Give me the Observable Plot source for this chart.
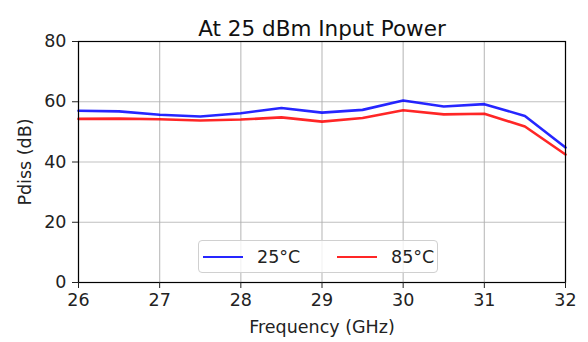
<!DOCTYPE html>
<html>
<head>
<meta charset="utf-8">
<script src="https://cdn.jsdelivr.net/npm/d3@7"></script>
<script src="https://cdn.jsdelivr.net/npm/@observablehq/plot@0.6"></script>
<style>
  html, body { margin: 0; padding: 0; background: #fff; }
  #chart { position: relative; width: 588px; height: 342px; font-family: "DejaVu Sans", sans-serif; }
  #chart svg { display: block; }
  .legend {
    position: absolute; left: 198px; top: 240px; width: 238px; height: 31px;
    background: rgba(255,255,255,0.8); border: 1px solid #d0d0d0; border-radius: 4px;
    font-size: 17.5px; color: #222;
  }
  .legend .item { position: absolute; top: 0; height: 31px; display: flex; align-items: center; }
  .legend .swatch { width: 40px; height: 0; border-top: 2.6px solid; margin-right: 14px; }
</style>
</head>
<body>
<div id="chart"></div>
<script>
// Dissipated power vs. frequency at 25 dBm input, two case temperatures
const freq = [26, 26.5, 27, 27.5, 28, 28.5, 29, 29.5, 30, 30.5, 31, 31.5, 32];
const pdiss25 = [57.0, 56.8, 55.7, 55.1, 56.2, 57.9, 56.4, 57.3, 60.4, 58.4, 59.2, 55.3, 44.8];
const pdiss85 = [54.3, 54.4, 54.2, 53.8, 54.1, 54.8, 53.4, 54.6, 57.2, 55.8, 56.0, 51.8, 42.5];
const seriesNames = ["25°C", "85°C"];
const seriesColors = ["#0000ff", "#ff0000"];
const xTicks = [26, 27, 28, 29, 30, 31, 32];
const yTicks = [0, 20, 40, 60, 80];

const rows = [
  ...freq.map((f, i) => ({f, v: pdiss25[i], s: seriesNames[0]})),
  ...freq.map((f, i) => ({f, v: pdiss85[i], s: seriesNames[1]}))
];

const chart = Plot.plot({
  width: 588,
  height: 342,
  marginTop: 41,
  marginLeft: 78,
  marginRight: 23,
  marginBottom: 60,
  style: {fontFamily: "DejaVu Sans, sans-serif", fontSize: "17.5px", color: "#222", background: "#fff"},
  x: {domain: [26, 32], ticks: xTicks},
  y: {domain: [0, 80], ticks: yTicks},
  color: {domain: seriesNames, range: seriesColors},
  marks: [
    Plot.gridX(xTicks, {stroke: "#b0b0b0", strokeOpacity: 0.8, strokeWidth: 1.2}),
    Plot.gridY(yTicks, {stroke: "#b0b0b0", strokeOpacity: 0.8, strokeWidth: 1.2}),
    Plot.line(rows, {x: "f", y: "v", z: "s", stroke: "s", strokeWidth: 2.6, strokeOpacity: 0.85}),
    Plot.frame({stroke: "#000", strokeWidth: 1.2}),
    Plot.axisX({ticks: xTicks, tickFormat: "d", tickSize: 6, tickPadding: 5, label: "Frequency (GHz)",
      labelAnchor: "center", labelArrow: "none", labelOffset: 50}),
    Plot.axisY({ticks: yTicks, tickFormat: "d", tickSize: 6, tickPadding: 6, label: "Pdiss (dB)",
      labelAnchor: "center", labelArrow: "none", labelOffset: 60}),
    Plot.text(["At 25 dBm Input Power"], {frameAnchor: "top", dy: -21, fontSize: 21.5, fill: "#111"})
  ]
});

const root = document.getElementById("chart");
root.appendChild(chart);

// Legend box with line swatches, two columns
const legend = document.createElement("div");
legend.className = "legend";
const itemLeft = [4, 138];
seriesNames.forEach((name, i) => {
  const item = document.createElement("div");
  item.className = "item";
  item.style.left = itemLeft[i] + "px";
  const sw = document.createElement("span");
  sw.className = "swatch";
  sw.style.borderColor = seriesColors[i];
  sw.style.opacity = 0.85;
  const label = document.createElement("span");
  label.textContent = name;
  item.appendChild(sw);
  item.appendChild(label);
  legend.appendChild(item);
});
root.appendChild(legend);
</script>
</body>
</html>
